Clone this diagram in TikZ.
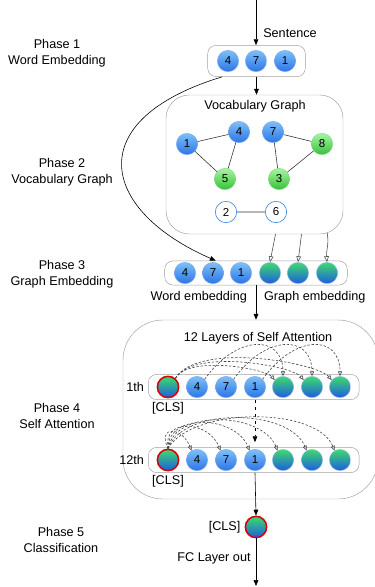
\documentclass[tikz,border=0pt]{standalone}
\usepackage{fontspec}
\setmainfont{Liberation Sans}
\usetikzlibrary{arrows.meta,fit,calc}
\definecolor{wtop}{HTML}{7DC0F8}
\definecolor{wbot}{HTML}{2C74E6}
\definecolor{gtop}{HTML}{A6F5A0}
\definecolor{gbot}{HTML}{36C03A}
\definecolor{etop}{HTML}{3EDB6C}
\definecolor{ebot}{HTML}{1D5CE0}
\definecolor{ering}{HTML}{4A90E2}
\tikzset{
  tok/.style={circle,minimum size=0.64cm,inner sep=0pt,font=\fontsize{9.8}{10}\selectfont,line width=0.4pt},
  word/.style={tok,top color=wtop,bottom color=wbot,draw=wbot!60},
  voc/.style={tok,top color=gtop,bottom color=gbot,draw=gbot!60},
  emb/.style={tok,top color=etop,bottom color=ebot,draw=ebot!40},
  cls/.style={tok,top color=etop,bottom color=ebot,draw=red!85!black,line width=1.3pt},
  hollow/.style={tok,fill=white,draw=ering,line width=0.6pt},
  rowbox/.style={draw=gray!75,rounded corners=7pt,inner ysep=1pt,inner xsep=7pt},
  bigbox/.style={draw=gray!75,rounded corners=#1},
  arr/.style={line width=0.5pt,-{Triangle[length=5pt,width=4pt]}},
  oarr/.style={line width=0.5pt,black!70,-{Triangle[open,length=5pt,width=4pt]}},
  att/.style={line width=0.5pt,black!75,dash pattern=on 2pt off 1.5pt,-{Triangle[open,length=4pt,width=3.5pt]}},
  lbl/.style={font=\fontsize{10.8}{14}\selectfont,align=center}
}
\begin{document}
\begin{tikzpicture}[x=0.03cm,y=0.03cm]
\useasboundingbox (0,0) rectangle (375,-587);
%
\def\ya{387}
\def\yb{460}
%
% phase labels
\node[lbl] (ph1) at (57,-53) {Phase 1\\Word Embedding};
\node[lbl] (ph2) at (62,-172) {Phase 2\\Vocabulary Graph};
\node[lbl] (ph3) at (62,-274) {Phase 3\\Graph Embedding};
\node[lbl] (ph4) at (57,-416) {Phase 4\\Self Attention};
\node[lbl] (ph5) at (61,-540) {Phase 5\\Classification};
%
% phase 1
\coordinate (src) at (256,0);
\foreach \n/\x/\t in {w4/228/4,w7/256/7,w1/285/1}
  \node[word] (\n) at (\x,-61) {\t};
\node[rowbox,inner xsep=8pt,inner ysep=4pt,fit=(w4)(w1)] (p1box) {};
\draw[arr] (src) -- (src |- p1box.north);
\node[lbl] (sent) at (290,-33) {Sentence};
%
% phase 2
\node[bigbox=0.7cm,minimum width=5.31cm,minimum height=4.17cm] (vocab) at (254.5,-164.5) {};
\node[lbl] (vtitle) at (255,-106) {Vocabulary Graph};
\node[word] (v1) at (187,-144) {1};
\node[word] (v4) at (239,-132) {4};
\node[voc] (v5) at (225,-179) {5};
\node[word] (v7) at (273,-132) {7};
\node[voc] (v8) at (322,-144) {8};
\node[voc] (v3) at (279,-179) {3};
\node[hollow] (v2) at (226,-212) {2};
\node[hollow] (v6) at (276,-212) {6};
\draw[line width=0.5pt,black!80] (v1)--(v4) (v1)--(v5) (v4)--(v5)
  (v7)--(v8) (v7)--(v3) (v8)--(v3) (v2)--(v6);
\draw[arr] (p1box.south) -- (p1box.south |- vocab.north);
%
% phase 3
\foreach \i/\x/\t/\s in {1/185/4/word,2/213/7/word,3/241/1/word,4/270//emb,5/298//emb,6/327//emb}
  \node[\s] (e\i) at (\x,-273) {\t};
\node[rowbox,inner xsep=8pt,fit=(e1)(e6)] (p3box) {};
\draw[arr] ($(p1box.south west)!0.15!(p1box.south east)$)
  .. controls (80,-120) and (100,-210) .. ($(p3box.north west)!0.28!(p3box.north east)$);
\draw[oarr] ($(vocab.south)+(21,0)$) -- (e4.north);
\draw[oarr] ($(vocab.south)+(47,0)$) -- (e5.north);
\draw[oarr] ($(vocab.south east)+(-16,1)$) to[out=-80,in=95] (e6.north);
\node[lbl,anchor=east] (wemb) at (251,-297) {Word embedding};
\node[lbl,anchor=west] (gemb) at (260,-297) {Graph embedding};
%
% phase 4
\node[bigbox=1.2cm,minimum width=7.65cm,minimum height=5.37cm] (attn) at (250.5,-409.5) {};
\draw[arr] (p3box.south) -- (p3box.south |- attn.north);
\node[lbl] (atitle) at (258,-338) {12 Layers of Self Attention};
\foreach \r/\y in {1/\ya,12/\yb}{
  \foreach \i/\x/\t/\s in {0/168//cls,1/197/4/word,2/226/7/word,3/255/1/word,4/283//emb,5/312//emb,6/340//emb}
    \node[\s] (r\r n\i) at (\x,-\y) {\t};
  \node[rowbox,fit=(r\r n0)(r\r n6)] (r\r box) {};
  \node[lbl,anchor=north] (r\r cls) at (r\r n0.south) {[CLS]};
}
\node[lbl,anchor=east] (t1) at (r1box.west) {1th};
\node[lbl,anchor=east] (t12) at (r12box.west) {12th};
% attention in layer 1
\foreach \k/\h in {4/28,5/36,6/44}
  \draw[att] (r1n0.50) .. controls +(58:\h) and +(130:\h*0.5) .. (r1n\k.140);
\foreach \s/\k in {1/4,2/5,3/6}
  \draw[att] (r1n\s.45) .. controls +(55:55) and +(90:42) .. (r1n\k.north);
\draw[arr,dashed] (r1box.south -| r1n3) -- ($(r12box.north -| r12n3)+(0,5)$);
% attention in layer 12
\foreach \k/\a/\h in {1/115/26,2/100/32,3/90/37,4/80/41,5/70/45,6/60/48}
  \draw[att] (r12n0.north) .. controls +(\a:\h) and +(112:\h) .. (r12n\k.120);
%
% phase 5
\node[cls] (fcls) at (256,-527) {};
\node[lbl,anchor=east] (fclsl) at (fcls.west) {[CLS]};
\draw[arr] (r12box.south -| r12n3) -- (fcls.north);
\coordinate (out) at (256,-586);
\draw[arr] (fcls.south) -- (out);
\node[lbl] (fc) at (214,-558) {FC Layer out};
%
\end{tikzpicture}
\end{document}
